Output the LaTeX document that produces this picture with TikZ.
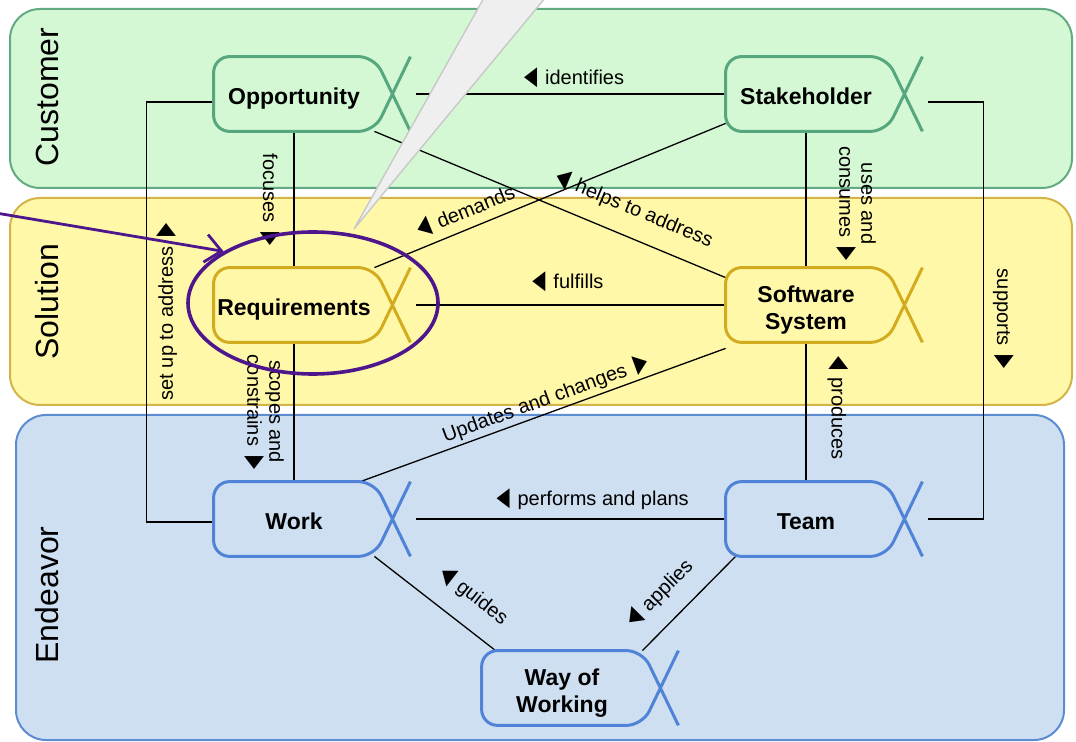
\documentclass[tikz,border=0pt]{standalone}
\usepackage{fontspec}
\setmainfont{Liberation Sans}
\newfontfamily\trifont{DejaVu Sans}
\usepackage{graphicx}
\usetikzlibrary{calc,shapes.geometric,arrows.meta}

\definecolor{custfill}{RGB}{212,248,212}
\definecolor{custline}{RGB}{98,170,130}
\definecolor{custnode}{RGB}{86,166,126}
\definecolor{solfill}{RGB}{255,248,168}
\definecolor{solline}{RGB}{212,180,72}
\definecolor{solnode}{RGB}{210,172,30}
\definecolor{endfill}{RGB}{206,223,242}
\definecolor{endline}{RGB}{92,140,210}
\definecolor{endnode}{RGB}{80,130,215}
\definecolor{markpurple}{RGB}{78,22,140}

\newcommand{\triL}{{\trifont\scalebox{.85}[1.3]{◀}}\hspace{4pt}}
\newcommand{\triR}{\hspace{5pt}{\trifont\scalebox{.85}[1.3]{▶}}}

\tikzset{
	lane/.style={rounded corners=15pt, line width=1pt},
	lanelbl/.style={rotate=90, font=\fontsize{16}{18}\selectfont},
	alphabox/.style={rectangle, minimum width=80pt, minimum height=37pt, inner sep=0pt, align=center,
		text height=12.5pt, text depth=2.4pt, font=\fontsize{11.5}{13.5}\selectfont\bfseries},
	twoline/.style={text height=27pt},
	alphaline/.style={line width=1.5pt, rounded corners=8pt},
	link/.style={line width=0.65pt},
	lbl/.style={font=\fontsize{10}{11}\selectfont, inner sep=1.5pt},
	callout/.style={fill={rgb,255:red,239;green,239;blue,239}, draw={rgb,255:red,200;green,200;blue,200}, line width=0.7pt},
	ringmark/.style={ellipse, draw=markpurple, line width=1.8pt, minimum width=125pt, minimum height=71pt, inner sep=0pt},
	pinarrow/.style={draw=markpurple, line width=1.4pt, -{Straight Barb[length=8pt,width=14pt]}}
}

\begin{document}
\begin{tikzpicture}[x=0.5pt, y=-0.5pt]

	\useasboundingbox (0,0) rectangle (1076,742);

	% swim lanes
	\draw[lane, fill=custfill, draw=custline] (10,9) rectangle (1072,188);
	\draw[lane, fill=solfill, draw=solline] (10,198) rectangle (1072,405);
	\draw[lane, fill=endfill, draw=endline] (16,415) rectangle (1064,740);

	\node[lanelbl] (custlbl) at (47,97) {Customer};
	\node[lanelbl] (sollbl) at (47,302) {Solution};
	\node[lanelbl] (endlbl) at (47,595) {Endeavor};

	% alphas
	\node[alphabox] (opp) at (294,94) {Opportunity};
	\node[alphabox] (stake) at (806,94) {Stakeholder};
	\node[alphabox] (req) at (294,305) {Requirements};
	\node[alphabox, twoline] (sys) at (806,305) {Software\\System};
	\node[alphabox] (work) at (294,519) {Work};
	\node[alphabox] (team) at (806,519) {Team};
	\node[alphabox, twoline] (wow) at (562,688) {Way of\\Working};

	% relations
	\draw[link] ($(opp.east)+(42,0)$) -- node[lbl, above=1.5pt, pos=.51] {\triL identifies} (stake.west);
	\draw[link] ($(req.east)+(42,0)$) -- node[lbl, above=5pt, pos=.49] {\triL fulfills} (sys.west);
	\draw[link] ($(work.east)+(42,0)$) -- node[lbl, above=3pt, pos=.57] {\triL performs and plans} (team.west);

	\draw[link] (opp.south) -- node[lbl, pos=.5, xshift=-12pt, rotate=-90] {focuses\triR} (req.north);
	\draw[link] (req.south) -- node[lbl, pos=.5, xshift=-15pt, rotate=-90, align=center] {scopes and\\constrains\triR} (work.north);
	\draw[link] (stake.south) -- node[lbl, pos=.53, xshift=25pt, rotate=-90, align=center] {uses and\\consumes\triR} (sys.north);
	\draw[link] (sys.south) -- node[lbl, pos=.47, xshift=16pt, rotate=-90] {\triL produces} (team.north);

	\draw[link] (opp.south east) -- node[lbl, sloped, above=7pt, pos=.71] {\triL helps to address} ([yshift=-5pt]sys.north west);
	\draw[link] (req.north east) -- node[lbl, sloped, above=2pt, pos=.28] {\triL demands} ([yshift=4pt]stake.south west);
	\draw[link] ([xshift=-7pt]work.north east) -- node[lbl, sloped, above=0pt, pos=.52] {Updates and changes\triR} ([yshift=-3pt]sys.south west);
	\draw[link] (work.south east) -- node[lbl, sloped, above=8pt, pos=.67] {\triL guides} ([xshift=7pt]wow.north west);
	\draw[link] (wow.north east) -- node[lbl, sloped, above=7pt, pos=.4] {\triL applies} ([xshift=5pt]team.south west);

	\draw[link] ([yshift=-4pt]opp.west) -- ++(-67,0) |- node[lbl, pos=.25, xshift=10pt, rotate=90] {set up to address\triR} ([yshift=-1.5pt]work.west);
	\draw[link] ($(stake.east)+(42,8)$) -- ++(55,0) |- node[lbl, pos=.26, xshift=10pt, rotate=-90] {supports\triR} ($(team.east)+(42,0)$);

	% alpha outlines
	\foreach \n/\c in {opp/custnode, stake/custnode, req/solnode, sys/solnode, work/endnode, team/endnode, wow/endnode}
	{
		\draw[alphaline, draw=\c] ($(\n.south east)+(36,0)$) -- (\n.north east) -- (\n.north west)
			-- (\n.south west) -- (\n.south east) -- ($(\n.north east)+(36,0)$);
	}

	% callout and marking
	\draw[callout] (494,-20) -- (354,229) -- (560,-20) -- cycle;

	\node[ringmark] (ring) at (313,303) {};
	\coordinate (pin) at (-10,212);
	\draw[pinarrow] (pin) -- (ring.150);

\end{tikzpicture}
\end{document}
